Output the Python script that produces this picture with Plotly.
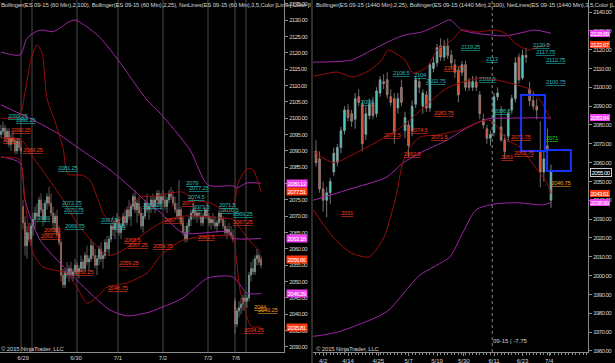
import plotly.graph_objects as go

# ---------------- LEFT PANEL : ES 09-15 (60 Min) ----------------
l_open = [2095,2096,2097,2094,2096,2092,2094,2093,2090,2093,
          2091,2073,2068,2061,2065,2063,2067,2069,2071,2070,
          2075,2072,2069,2074,2076,2074,2071,2068,2070,2065,
          2062,2052,2049,2053,2052,2054,2052,2053,2055,2053,
          2054,2056,2054,2058,2056,2057,2061,2058,2055,2057,
          2060,2057,2058,2062,2060,2063,2067,2066,2068,2069,
          2065,2067,2070,2068,2072,2070,2073,2076,2072,2074,
          2071,2067,2070,2074,2072,2073,2075,2073,2075,2077,
          2074,2076,2075,2073,2075,2077,2076,2074,2072,2070,
          2072,2068,2065,2063,2067,2069,2071,2072,2070,2071,
          2070,2068,2070,2072,2070,2068,2069,2068,2067,2068,
          2071,2069,2067,2065,2066,2065,2064,2044,2037,2041,
          2042,2043,2045,2044,2045,2052,2054,2053,2057,2058,2057]
l_high = [2098,2099,2098,2097,2097,2095,2096,2094,2094,2094,
          2093,2075,2070,2067,2068,2068,2071,2073,2074,2076,
          2077,2074,2075,2077,2079,2077,2073,2071,2072,2067,
          2063,2054,2054,2056,2055,2056,2054,2057,2056,2055,
          2058,2057,2059,2061,2058,2063,2062,2060,2058,2061,
          2062,2059,2063,2064,2064,2068,2070,2069,2071,2070,
          2068,2071,2072,2073,2075,2074,2077,2078,2075,2076,
          2073,2071,2075,2077,2074,2076,2077,2076,2078,2078,
          2077,2078,2077,2076,2078,2079,2078,2076,2074,2081,
          2073,2070,2067,2068,2070,2072,2074,2073,2072,2073,
          2072,2071,2073,2074,2071,2070,2071,2070,2069,2072,
          2072,2070,2069,2067,2068,2067,2066,2045,2042,2044,
          2045,2046,2047,2046,2053,2056,2057,2058,2060,2059,2058]
l_low = [2094,2095,2093,2092,2091,2090,2092,2089,2089,2090,
         2089,2066,2058,2057,2062,2061,2064,2066,2068,2069,
         2071,2067,2068,2072,2073,2070,2066,2065,2064,2061,
         2050,2048,2048,2051,2050,2051,2050,2052,2052,2051,
         2053,2053,2053,2055,2053,2056,2057,2054,2052,2055,
         2056,2054,2057,2059,2058,2062,2064,2063,2065,2064,
         2063,2066,2066,2067,2069,2067,2072,2071,2068,2070,
         2066,2065,2069,2071,2069,2071,2072,2071,2073,2073,
         2072,2074,2072,2071,2074,2075,2073,2071,2069,2069,
         2067,2064,2062,2062,2065,2067,2069,2069,2068,2069,
         2067,2067,2069,2069,2067,2066,2067,2066,2065,2067,
         2068,2066,2064,2063,2064,2063,2062,2034,2036,2039,
         2040,2041,2042,2042,2044,2050,2052,2052,2055,2055,2054]
l_close = [2096,2097,2094,2096,2092,2094,2093,2090,2093,2091,
           2090,2068,2061,2065,2063,2067,2069,2071,2070,2075,
           2072,2069,2074,2076,2074,2071,2068,2070,2065,2062,
           2052,2049,2053,2052,2054,2052,2053,2055,2053,2054,
           2056,2054,2058,2056,2057,2061,2058,2055,2057,2060,
           2057,2058,2062,2060,2063,2067,2066,2068,2069,2065,
           2067,2070,2068,2072,2070,2073,2076,2072,2074,2071,
           2067,2070,2074,2072,2073,2075,2073,2075,2077,2074,
           2076,2075,2073,2075,2077,2076,2074,2072,2070,2072,
           2068,2065,2063,2067,2069,2071,2072,2070,2071,2070,
           2068,2070,2072,2070,2068,2069,2068,2067,2068,2071,
           2069,2067,2065,2066,2065,2064,2063,2037,2041,2042,
           2043,2045,2044,2045,2052,2054,2053,2057,2058,2056,2055]
l_bars = list(range(len(l_open)))

l_tick_pos = [11, 37.5, 58.5, 81, 103.5, 117.5]
l_tick_text = ["6/29", "6/30", "7/1", "7/2", "7/3", "7/6"]
l_session_lines = [10, 15.5, 38, 58.5, 81, 103.5, 117, 122.5]
l_price_ticks = list(range(2030, 2136, 5))

# Bollinger(2,100) - purple ; Bollinger(2,25) - dark red  (bar index, price)
l_bb100_up = [(0,2120.3),(9.5,2119.4),(13,2124.5),(18,2126.7),(21,2127),(26,2126.5),(29.5,2127.7),
              (33,2129.2),(37,2130.1),(43,2128),(49.5,2124.7),(58.5,2117.9),(73,2105.6),(79.5,2101.6),
              (94.5,2090.3),(103.5,2079.6),(116,2079.3),(118,2078.7),(123,2080.2),(130,2080.1)]
l_bb100_mid = [(0,2104.1),(16,2099.5),(28,2095.5),(38,2091.2),(54.5,2084.2),(64.5,2079),(74.5,2073.5),
               (79.5,2071.3),(91,2064.9),(113,2065.2),(116,2063.3),(130,2063.2)]
l_bb100_low = [(0,2088.2),(9.5,2086.3),(12,2075),(19.5,2062.7),(33,2053.5),(44.5,2046.5),(54.5,2041.3),
               (63,2039.5),(74.5,2040.7),(79.5,2041.9),(91,2045),(103.5,2051.1),(116,2051.4),(123,2046.5),(130,2046.3)]
l_bb25_up = [(0,2100),(9,2100.5),(12,2108),(15,2118),(18,2122.5),(20.5,2120),(23,2106),(27,2099),(31,2091),
             (33.5,2083),(41,2082.5),(44.5,2081),(48,2076),(52,2070),(58,2068),(64,2073),(70,2076),(75,2076),
             (91,2077.4),(96,2075),(104.5,2074.1),(114.5,2071.3),(117,2075),(118.5,2080),(123,2084.5),
             (126,2084.2),(130,2077.5)]
l_bb25_mid = [(0,2094),(10,2093.5),(16,2088),(22,2083),(30,2076),(38,2068),(46,2062),(54,2058),(62,2060),
              (70,2064),(80,2068),(90,2070),(100,2070),(110,2069.5),(116,2069),(120,2066),(125,2062),(130,2059)]
l_bb25_low = [(0,2088),(9,2087.5),(12,2075),(16,2058.8),(21,2054.5),(26,2053.6),(33,2052.6),(38,2048.3),
              (43,2043.4),(48,2045.3),(53,2048.3),(63,2049.6),(73,2052.6),(80,2058),(90,2062.5),(100,2063.7),
              (116,2063.7),(117.5,2058),(119.5,2047.4),(122,2041.3),(124.5,2036.7),(126,2036.1),(130,2036.1)]

l_badges = [(2080.13,"#f040f0"),(2077.51,"#ff3a10"),(2063.18,"#f040f0"),
            (2056.66,"#ff3a10"),(2046.29,"#f040f0"),(2035.81,"#ff3a10")]

# NetLines labels (text, bar, price, kind)
l_labels = [("2093.25",3,2100.7,"t"),("2092.25",7,2099.4,"t"),("2090.25",4.5,2096.4,"r"),
            ("2089.5",0.5,2093.3,"r"),("2089.25",10.5,2090.3,"r"),("2081.25",28,2084.8,"t"),
            ("2072.75",30,2074.1,"t"),("2070.75",31,2071.9,"t"),("2066.75",31.5,2067.0,"t"),
            ("2069",18,2069.5,"t"),("2065.5",21,2065.8,"r"),("2062.75",19.5,2064.0,"r"),
            ("2067.5",49.5,2068.9,"t"),("2066",55.5,2067.0,"t"),("2072.25",70.5,2073.5,"t"),
            ("2052.25",36,2052.9,"r"),("2059.25",58.5,2055.7,"r"),("2068.5",61,2062.7,"r"),
            ("2067.25",63,2061.2,"r"),("2046.75",53,2048.0,"r"),("2079",92,2080.2,"t"),
            ("2077.25",93.5,2078.7,"t"),("2074.5",93,2075.9,"t"),("2073",90,2074.1,"r"),
            ("2071.5",95.5,2072.8,"t"),("2071.5",108.5,2073.5,"t"),("2070.5",110,2071.9,"t"),
            ("2069.25",115.5,2070.7,"t"),("2067.25",115.5,2068.2,"r"),("2067.75",81,2068.9,"r"),
            ("2062.5",98,2063.7,"r"),("2059.75",75.5,2060.9,"r"),("2044",126,2042.2,"o"),
            ("2040.25",128,2041.4,"o"),("2034.25",121,2035.1,"r")]

# ---------------- RIGHT PANEL : ES 09-15 (1440 Min) ----------------
r_open = [2066,2062,2046,2040,2044,2055,2060,2068,2077,2088,
          2086,2083,2095,2091,2075,2085,2092,2086,2097,2103,
          2104,2095,2094,2089,2100,2077,2080,2077,2091,2103,
          2090,2096,2089,2110,2113,2122,2116,2122,2117,2112,
          2109,2108,2112,2103,2100,2103,2096,2083,2078,2073,
          2076,2095,2079,2072,2074,2088,2094,2116,2105,2117,
          2099,2093,2090,2066,2055,2069,2040]
r_high = [2072,2066,2050,2047,2052,2068,2070,2079,2090,2091,
          2088,2097,2099,2093,2090,2094,2095,2100,2106,2107,
          2108,2099,2097,2097,2104,2087,2082,2093,2106,2105,
          2099,2098,2113,2116,2123,2126,2125,2126,2120,2115,
          2111,2114,2114,2105,2106,2106,2098,2086,2080,2077,
          2097,2100,2090,2075,2088,2096,2116,2118,2120,2121,
          2103,2098,2094,2082,2066,2078,2059]
r_low = [2058,2044,2034,2031,2038,2053,2058,2065,2075,2082,
         2079,2078,2090,2066,2072,2083,2083,2084,2095,2099,
         2094,2090,2070,2086,2090,2073,2063,2074,2089,2097,
         2086,2087,2087,2108,2111,2114,2114,2115,2110,2105,
         2092,2106,2098,2098,2098,2098,2083,2078,2070,2069,
         2074,2093,2071,2062,2071,2086,2092,2102,2104,2113,
         2090,2088,2083,2047,2050,2063,2036]
r_close = [2060,2046,2040,2044,2050,2065,2068,2077,2088,2084,
           2082,2094,2092,2070,2086,2091,2085,2098,2104,2102,
           2096,2092,2076,2094,2092,2084,2069,2090,2104,2100,
           2097,2089,2112,2113,2121,2116,2122,2117,2113,2108,
           2096,2112,2100,2100,2103,2100,2086,2080,2073,2075,
           2095,2097,2072,2066,2086,2094,2113,2104,2117,2116,
           2093,2090,2088,2055,2062,2067,2055]
r_bars = list(range(len(r_open)))

r_tick_pos = [2, 9, 17.5, 26, 34, 41.5, 50, 58, 65.5]
r_tick_text = ["4/2", "4/14", "4/25", "5/7", "5/19", "5/30", "6/11", "6/23", "7/4"]
r_marker_line = 49.5
r_price_ticks = list(range(1960, 2141, 10))

r_bb100_up = [(-0.8,2113.4),(1,2113.4),(10,2114.5),(15.7,2119.8),(21.3,2125.1),(25,2127.8),(29.8,2129.4),
              (34.3,2133.1),(37.6,2135.8),(41,2130.4),(44.7,2128.8),(48.9,2127.8),(53.1,2127.3),(57.3,2128.8),
              (61.5,2130.4),(66,2128.7)]
r_bb100_mid = [(-0.8,2040),(8.7,2045.5),(19.9,2052.4),(24.4,2059.8),(29.2,2065.1),(36.8,2072),(41.3,2077.3),
               (45.2,2081.1),(48,2083.2),(56.5,2083.7),(66,2083.8)]
r_bb100_low = [(-0.8,1967.8),(1,1968.2),(6,1970),(12,1974),(20,1981),(29,2000),(37.6,2010),(41,2022),
               (45,2035),(50,2038),(56.5,2038.7),(64,2037.6),(66,2039)]
r_bb25_up = [(-0.8,2106),(1,2106.5),(5.9,2108.1),(10.4,2105.5),(15.2,2109.2),(18.5,2114.5),(20.2,2119.8),
             (22.2,2118.2),(25,2114.5),(27.2,2107.6),(31.2,2110.8),(34,2119.8),(38.2,2125.1),(41,2130.4),
             (45.5,2129.4),(50.3,2130.4),(53.1,2128.8),(55.9,2123.5),(59.6,2119.8),(62.4,2121.4),(66,2122.7)]
r_bb25_mid = [(-0.8,2066),(5,2060),(10,2064),(18,2072),(22.8,2077.3),(27.2,2084.2),(32,2092.2),(36.8,2099.6),
              (41.3,2102.8),(46.1,2105),(50.8,2103.9),(56.5,2101.2),(60,2099),(63,2093),(66,2083)]
r_bb25_low = [(-0.8,2035),(5,2020),(10,2012),(15,2010),(19,2020),(21.5,2035),(22.8,2045),(24,2057),
              (25.6,2066),(29.2,2073.6),(34,2074.7),(40.4,2077.3),(45.2,2081.1),(48,2082.7),(49.7,2081.6),
              (51.7,2077.3),(53.7,2072),(57.3,2068.3),(60.1,2061.4),(64.9,2049.2),(66,2043.6)]

r_badges = [(2128.69,"#f040f0"),(2122.67,"#ff3a10"),(2083.84,"#f040f0"),
            (2055.00,"#000000"),(2043.61,"#ff3a10"),(2038.99,"#f040f0")]

r_labels = [("2119.25",40.4,2121.4,"t"),("2113",47.5,2115.0,"t"),("2106.5",21.3,2107.6,"t"),
            ("2104",27.2,2106.5,"t"),("2102.75",30.6,2103.5,"t"),("2107.75",35.7,2110.3,"r"),
            ("2102.5",45.5,2104.4,"t"),("2090",12.4,2092.2,"t"),("2083.75",32.9,2086.4,"r"),
            ("2074.5",26.4,2077.3,"r"),("2072.5",18.8,2074.7,"r"),("2071.5",32,2073.6,"r"),
            ("2062.5",24.4,2064.6,"r"),("2061",51.7,2063.0,"r"),("2072.75",54.5,2073.6,"r"),
            ("2062.75",55.3,2065.1,"r"),("2086.5",49.7,2087.4,"t"),("2120.5",60.7,2122.5,"t"),
            ("2117.75",61.5,2118.8,"t"),("2112.75",64.3,2114.5,"t"),("2100.75",64.3,2102.8,"t"),
            ("2071",64.3,2073.1,"g"),("2046.75",65.7,2049.2,"o"),("2031",6.7,2033.3,"r")]

r_zones = [(57.6, 64.3, 2066.2, 2095.9), (64.9, 71.6, 2055.6, 2066.7)]

l_header = "Bollinger(ES 09-15 (60 Min),2,100), Bollinger(ES 09-15 (60 Min),2,25), NetLines(ES 09-15 (60 Min),3,5,Color [Lime],Color [I"
r_header = "Bollinger(ES 09-15 (1440 Min),2,25), Bollinger(ES 09-15 (1440 Min),2,100), NetLines(ES 09-15 (1440 Min),3,5,Color [L"
copyright_text = "© 2015 NinjaTrader, LLC"
r_status = "09-15 | -7.75"

# ---------------- FIGURE ----------------
W, H = 615, 363
FONT = "Liberation Sans, Arial, sans-serif"
FS = 6
AX = "#8c8c8c"
TXT = "#d2d2d2"
PURPLE = "#a126a8"
DRED = "#9a0e0e"
LBL = {"t": "#25b5ad", "r": "#ee3a1c", "o": "#e39a1c", "g": "#1ec81e"}

def tight(t, ls):
    return f'<span style="letter-spacing:{ls}px">{t}</span>'

def ul(t):
    return '<span style="text-decoration:underline dotted;letter-spacing:-0.3px">' + t + '</span>'

fig = go.Figure()

def add_band(pts, color, xa, ya):
    fig.add_trace(go.Scatter(x=[p[0] for p in pts], y=[p[1] for p in pts], mode="lines",
                             line=dict(color=color, width=1, shape="spline", smoothing=0.7),
                             xaxis=xa, yaxis=ya, hoverinfo="skip", showlegend=False))

for band, col in [(l_bb100_up, PURPLE), (l_bb100_mid, PURPLE), (l_bb100_low, PURPLE),
                  (l_bb25_up, DRED), (l_bb25_mid, DRED), (l_bb25_low, DRED)]:
    add_band(band, col, "x", "y")
for band, col in [(r_bb100_up, PURPLE), (r_bb100_mid, PURPLE), (r_bb100_low, PURPLE),
                  (r_bb25_up, DRED), (r_bb25_mid, DRED), (r_bb25_low, DRED)]:
    add_band(band, col, "x2", "y2")

fig.add_trace(go.Candlestick(x=l_bars, open=l_open, high=l_high, low=l_low, close=l_close,
                             increasing=dict(line=dict(color="#9aa6a6", width=0.6), fillcolor="#3fcfc2"),
                             decreasing=dict(line=dict(color="#9a8a86", width=0.6), fillcolor="#f0421c"),
                             whiskerwidth=0, xaxis="x", yaxis="y", hoverinfo="skip", showlegend=False))
fig.add_trace(go.Candlestick(x=r_bars, open=r_open, high=r_high, low=r_low, close=r_close,
                             increasing=dict(line=dict(color="#8e9a9a", width=0.8), fillcolor="#3fd3c6"),
                             decreasing=dict(line=dict(color="#8e8a88", width=0.8), fillcolor="#f4401a"),
                             whiskerwidth=0, xaxis="x2", yaxis="y2", hoverinfo="skip", showlegend=False))

shapes = []
for sx in l_session_lines:
    shapes.append(dict(type="line", xref="x", yref="y domain", x0=sx, x1=sx, y0=0, y1=1,
                       line=dict(color="#4a4a4a", width=1), layer="below"))
shapes.append(dict(type="line", xref="x2", yref="y2 domain", x0=r_marker_line, x1=r_marker_line, y0=0, y1=1,
                   line=dict(color="#8a8a8a", width=1, dash="dot"), layer="below"))
for x0, x1, y0, y1 in r_zones:
    shapes.append(dict(type="rect", xref="x2", yref="y2", x0=x0, x1=x1, y0=y0, y1=y1,
                       line=dict(color="#1434ff", width=2), fillcolor="rgba(0,0,0,0)"))
shapes.append(dict(type="line", xref="paper", yref="paper", x0=312/W, x1=312/W, y0=0, y1=1,
                   line=dict(color="#5a5a5a", width=1)))

ann = []
for txt, bx, py, k in l_labels:
    ann.append(dict(x=bx, y=py, xref="x", yref="y", text=ul(txt), showarrow=False, xanchor="left",
                    borderpad=0, font=dict(size=FS, color=LBL[k], family=FONT)))
for txt, bx, py, k in r_labels:
    ann.append(dict(x=bx, y=py, xref="x2", yref="y2", text=ul(txt), showarrow=False, xanchor="left",
                    borderpad=0, font=dict(size=FS, color=LBL[k], family=FONT)))
for val, col in l_badges:
    ann.append(dict(x=286/W, y=val, xref="paper", yref="y", text=tight(f"{val:.2f}", -0.5), showarrow=False,
                    xanchor="left", bgcolor=col, borderpad=0.5,
                    font=dict(size=FS, color="#ffffff", family=FONT)))
for val, col in r_badges:
    ann.append(dict(x=590/W, y=val, xref="paper", yref="y2", text=tight(f"{val:.2f}", -0.5), showarrow=False,
                    xanchor="left", bgcolor=col, borderpad=0.5,
                    bordercolor="#cccccc" if col == "#000000" else col, borderwidth=1 if col == "#000000" else 0,
                    font=dict(size=FS, color="#ffffff", family=FONT)))
head_font = dict(size=FS, color=TXT, family=FONT)
ann.append(dict(x=0, y=1 - 5/H, xref="paper", yref="paper", text=tight(l_header, -0.15), showarrow=False,
                borderpad=0, xanchor="left", yanchor="middle", font=head_font))
ann.append(dict(x=315/W, y=1 - 5/H, xref="paper", yref="paper", text=tight(r_header, -0.15), showarrow=False,
                borderpad=0, xanchor="left", yanchor="middle", font=head_font))
ann.append(dict(x=0, y=1 - 349/H, xref="paper", yref="paper", text=tight(copyright_text, -0.15), showarrow=False,
                borderpad=0, xanchor="left", yanchor="middle", font=head_font))
ann.append(dict(x=315/W, y=1 - 349/H, xref="paper", yref="paper", text=tight(copyright_text, -0.15),
                showarrow=False, borderpad=0, xanchor="left", yanchor="middle", font=head_font))
ann.append(dict(x=492/W, y=1 - 341/H, xref="paper", yref="paper", text=r_status, showarrow=False, borderpad=0,
                xanchor="left", yanchor="middle", font=head_font))

ydom = [11/H, 1]
tickfont = dict(size=FS, color=TXT, family=FONT)
fig.update_layout(
    template="none", width=W, height=H, margin=dict(l=0, r=0, t=0, b=0),
    paper_bgcolor="#000000", plot_bgcolor="#000000", showlegend=False,
    font=dict(family=FONT, size=FS, color=TXT),
    shapes=shapes, annotations=ann, hovermode=False,
    xaxis=dict(domain=[0, 284/W], range=[-0.5, 141.5], anchor="y", showline=True, linecolor=AX,
               linewidth=1, ticks="", tickmode="array", tickvals=l_tick_pos, ticktext=l_tick_text,
               tickfont=tickfont, showgrid=False, zeroline=False, automargin=False,
               rangeslider=dict(visible=False)),
    yaxis=dict(domain=ydom, range=[2028.44, 2136.22], anchor="x", side="right", tickmode="array",
               tickvals=l_price_ticks, ticktext=[tight(f"{v:.2f}", -0.55) for v in l_price_ticks],
               ticks="outside", ticklen=3, tickcolor=AX,
               showline=True, linecolor=AX, linewidth=1, tickfont=tickfont,
               showgrid=False, zeroline=False, automargin=False),
    xaxis2=dict(domain=[313/W, 588/W], range=[-0.84, 76.4], anchor="y2", showline=True, linecolor=AX,
                linewidth=1, ticks="outside", ticklen=3, tickcolor=AX, tickmode="array",
                tickvals=r_tick_pos, ticktext=r_tick_text, tickfont=tickfont,
                minor=dict(ticks="outside", tickmode="linear", tick0=0, dtick=1, ticklen=2, tickcolor=AX),
                showgrid=False, zeroline=False, automargin=False, rangeslider=dict(visible=False)),
    yaxis2=dict(domain=ydom, range=[1959.45, 2146.37], anchor="x2", side="right", tickmode="array",
                tickvals=r_price_ticks, ticktext=[tight(f"{v:.2f}", -0.55) for v in r_price_ticks],
                ticks="outside", ticklen=3, tickcolor=AX,
                showline=True, linecolor=AX, linewidth=1, tickfont=tickfont,
                showgrid=False, zeroline=False, automargin=False),
)

fig.write_html("out.html", config={"displayModeBar": False},
               post_script="document.body.style.margin='0px';document.body.style.overflow='hidden';")
